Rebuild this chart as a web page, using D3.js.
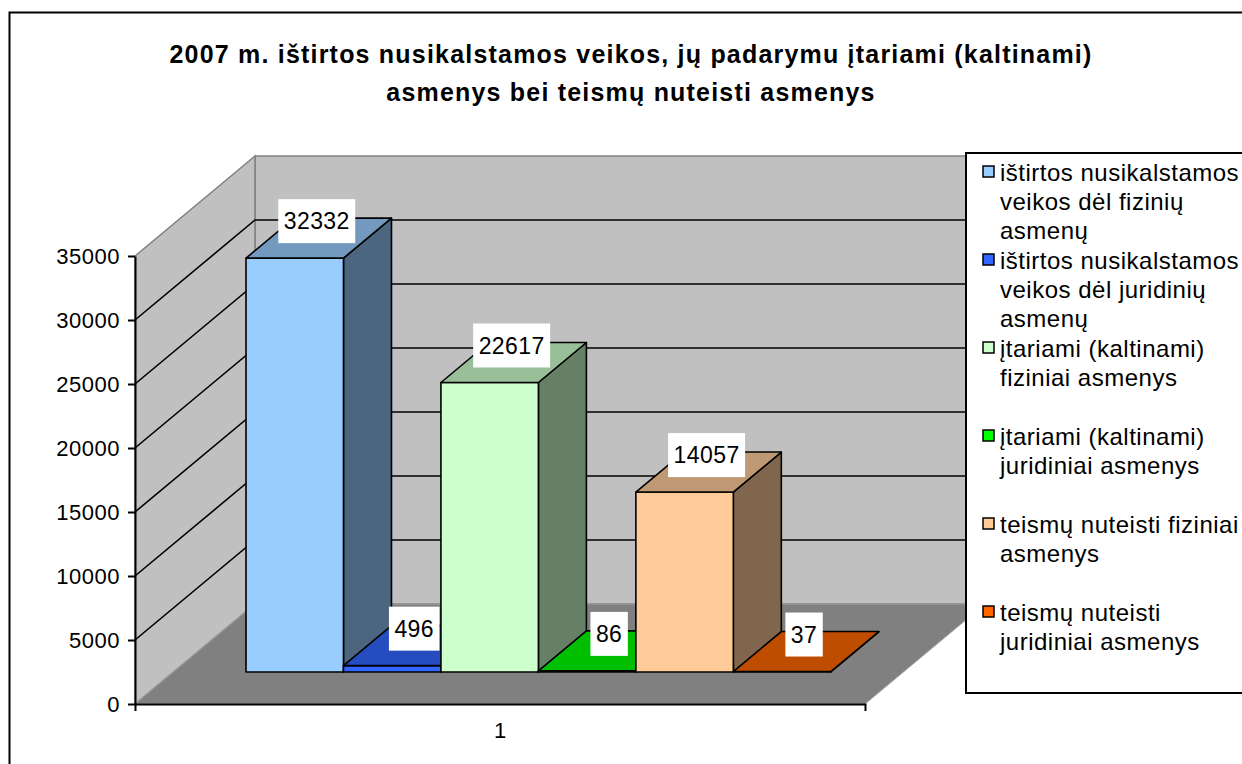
<!DOCTYPE html>
<html>
<head>
<meta charset="utf-8">
<script src="https://cdn.jsdelivr.net/npm/d3@7"></script>
<style>
  body { margin: 0; background: #fff; }
  svg text { font-family: "Liberation Sans", Arial, sans-serif; }
</style>
</head>
<body>
<div id="chart"></div>
<script>
var categories = ["1"];
var seriesNames = [
  "ištirtos nusikalstamos veikos dėl fizinių asmenų",
  "ištirtos nusikalstamos veikos dėl juridinių asmenų",
  "įtariami (kaltinami) fiziniai asmenys",
  "įtariami (kaltinami) juridiniai asmenys",
  "teismų nuteisti fiziniai asmenys",
  "teismų nuteisti juridiniai asmenys"
];
var legendLines = [
  ["ištirtos nusikalstamos", "veikos dėl fizinių", "asmenų"],
  ["ištirtos nusikalstamos", "veikos dėl juridinių", "asmenų"],
  ["įtariami (kaltinami)", "fiziniai asmenys"],
  ["įtariami (kaltinami)", "juridiniai asmenys"],
  ["teismų nuteisti fiziniai", "asmenys"],
  ["teismų nuteisti", "juridiniai asmenys"]
];
var values = [32332, 496, 22617, 86, 14057, 37];
var seriesColors = ["#99ccff", "#3366ff", "#ccffcc", "#00ff00", "#ffcc99", "#ff6600"];
var yTicks = [0, 5000, 10000, 15000, 20000, 25000, 30000, 35000];
var titleLines = [
  "2007 m. ištirtos nusikalstamos veikos, jų padarymu įtariami (kaltinami)",
  "asmenys bei teismų nuteisti asmenys"
];

var width = 1242, height = 764;
var left = 135, right = 865, floorY = 704, topY = 256;
// depth offset of the 3d box (back wall relative to front)
var depthX = 120, depthY = -100;
var barZ0 = 0.32, barZ1 = 0.72;

var svg = d3.select("#chart")
  .append("svg")
  .attr("width", width)
  .attr("height", height);

svg.append("rect")
  .attr("x", 9.5).attr("y", 12.5)
  .attr("width", 1300).attr("height", 800)
  .attr("fill", "#fff")
  .attr("stroke", "#000")
  .attr("stroke-width", 2);

var y = d3.scaleLinear().domain([0, 35000]).range([floorY, topY]);

var xOuter = d3.scaleBand().domain(categories).range([left, right]);
var xInner = d3.scaleBand()
  .domain(seriesNames)
  .range([0, xOuter.bandwidth()])
  .paddingInner(0)
  .paddingOuter(0.745);

function P(x, v, z) {
  return [x + depthX * z, y(v) + depthY * z];
}

function poly(points) {
  return points.map(function (p) { return p[0] + "," + p[1]; }).join(" ");
}

function shade(c, k) {
  var col = d3.rgb(c);
  return d3.rgb(col.r * k, col.g * k, col.b * k).toString();
}

var maxV = y.domain()[1];

// walls and floor
svg.append("polygon")
  .attr("points", poly([P(left, 0, 1), P(right, 0, 1), P(right, maxV, 1), P(left, maxV, 1)]))
  .attr("fill", "#c0c0c0")
  .attr("stroke", "#808080")
  .attr("stroke-width", 1.5);

svg.append("polygon")
  .attr("points", poly([P(left, 0, 0), P(left, 0, 1), P(left, maxV, 1), P(left, maxV, 0)]))
  .attr("fill", "#c0c0c0")
  .attr("stroke", "#808080")
  .attr("stroke-width", 1.5);

// gridlines
svg.append("g")
  .selectAll("polyline")
  .data(yTicks.filter(function (d) { return d > 0 && d < maxV; }))
  .enter()
  .append("polyline")
  .attr("points", function (d) { return poly([P(left, d, 0), P(left, d, 1), P(right, d, 1)]); })
  .attr("fill", "none")
  .attr("stroke", "#000")
  .attr("stroke-width", 1.6);

svg.append("polygon")
  .attr("points", poly([P(left, 0, 0), P(right, 0, 0), P(right, 0, 1), P(left, 0, 1)]))
  .attr("fill", "#808080")
  .attr("stroke", "#a0a0a0")
  .attr("stroke-width", 1);

// bars
var bars = svg.append("g");
values.forEach(function (v, i) {
  var x0 = xOuter(categories[0]) + xInner(seriesNames[i]);
  var x1 = x0 + xInner.bandwidth();
  var c = seriesColors[i];
  var g = bars.append("g")
    .attr("stroke", "#000")
    .attr("stroke-width", 1.6)
    .attr("stroke-linejoin", "round");
  g.append("polygon")
    .attr("points", poly([P(x1, 0, barZ0), P(x1, 0, barZ1), P(x1, v, barZ1), P(x1, v, barZ0)]))
    .attr("fill", shade(c, 0.5));
  g.append("polygon")
    .attr("points", poly([P(x0, 0, barZ0), P(x1, 0, barZ0), P(x1, v, barZ0), P(x0, v, barZ0)]))
    .attr("fill", c);
  g.append("polygon")
    .attr("points", poly([P(x0, v, barZ0), P(x1, v, barZ0), P(x1, v, barZ1), P(x0, v, barZ1)]))
    .attr("fill", shade(c, 0.75));
});

// y axis
var yAxis = svg.append("g")
  .attr("transform", "translate(" + left + ",0)")
  .call(d3.axisLeft(y).tickValues(yTicks).tickSizeInner(7).tickSizeOuter(0).tickPadding(8).tickFormat(d3.format("d")));
yAxis.select(".domain").attr("stroke-width", 2);
yAxis.selectAll(".tick line").attr("stroke-width", 2);
yAxis.selectAll(".tick text")
  .style("font-size", "22px")
  .style("letter-spacing", "0.5px")
  .attr("fill", "#000");

// x axis
var xAxis = svg.append("g")
  .attr("transform", "translate(0," + floorY + ")")
  .call(d3.axisBottom(xOuter).tickSizeInner(0).tickSizeOuter(7).tickPadding(18));
xAxis.select(".domain").attr("stroke-width", 2);
xAxis.selectAll(".tick text")
  .style("font-size", "22px")
  .attr("fill", "#000");

// data labels
var labels = svg.append("g");
values.forEach(function (v, i) {
  var x0 = xOuter(categories[0]) + xInner(seriesNames[i]);
  var cx = x0 + xInner.bandwidth() / 2 + depthX * (barZ0 + barZ1) / 2 - 2;
  var cy = y(v) + depthY * (barZ0 + barZ1) / 2 - 17;
  var lg = labels.append("g");
  var rect = lg.append("rect").attr("fill", "#fff");
  var t = lg.append("text")
    .attr("x", cx)
    .attr("y", cy)
    .attr("text-anchor", "middle")
    .attr("dominant-baseline", "central")
    .style("font-size", "23px")
    .style("letter-spacing", "0.4px")
    .text(v);
  var w = t.node().getComputedTextLength() + 11;
  rect.attr("x", cx - w / 2).attr("y", cy - 22).attr("width", w).attr("height", 44);
});

// title
svg.append("g")
  .selectAll("text")
  .data(titleLines)
  .enter()
  .append("text")
  .attr("x", 631)
  .attr("y", function (d, i) { return 63 + i * 38; })
  .attr("text-anchor", "middle")
  .style("font-size", "25px")
  .style("font-weight", "bold")
  .style("letter-spacing", "1.2px")
  .text(function (d) { return d; });

// legend
var legend = svg.append("g");
legend.append("rect")
  .attr("x", 966).attr("y", 153)
  .attr("width", 320).attr("height", 540)
  .attr("fill", "#fff")
  .attr("stroke", "#000")
  .attr("stroke-width", 2);

legendLines.forEach(function (lines, i) {
  var cy = 172 + i * 88;
  legend.append("rect")
    .attr("x", 983).attr("y", cy - 6)
    .attr("width", 11).attr("height", 11)
    .attr("fill", seriesColors[i])
    .attr("stroke", "#000")
    .attr("stroke-width", 1.5);
  legend.selectAll(null)
    .data(lines)
    .enter()
    .append("text")
    .attr("x", 1000)
    .attr("y", function (d, j) { return cy + j * 29; })
    .attr("dominant-baseline", "central")
    .style("font-size", "24px")
    .style("letter-spacing", "0.5px")
    .text(function (d) { return d; });
});
</script>
</body>
</html>
